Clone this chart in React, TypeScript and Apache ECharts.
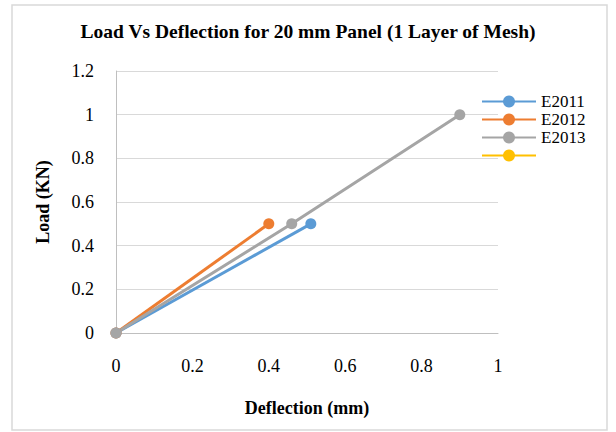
import React, { useEffect, useRef } from "react";
import * as echarts from "echarts";

const seriesNames = ["E2011", "E2012", "E2013", " "];
const e2011: [number, number][] = [[0, 0], [0.51, 0.5]];
const e2012: [number, number][] = [[0, 0], [0.4, 0.5]];
const e2013: [number, number][] = [[0, 0], [0.46, 0.5], [0.9, 1]];
const e2014: [number, number][] = [];
const colors = ["#5B9BD5", "#ED7D31", "#A5A5A5", "#FFC000"];

const FONT = "Liberation Serif";

export default function App() {
  const ref = useRef<HTMLDivElement>(null);
  useEffect(() => {
    if (!ref.current) return;
    const chart = echarts.init(ref.current, undefined, { renderer: "svg" });
    const datasets = [e2011, e2012, e2013, e2014];
    chart.setOption({
      animation: false,
      backgroundColor: "#ffffff",
      color: colors,
      textStyle: { fontFamily: FONT },
      title: {
        text: "Load Vs Deflection for 20 mm Panel (1 Layer of Mesh)",
        left: "center",
        top: 16,
        textStyle: { fontFamily: FONT, fontSize: 19.5, fontWeight: "bold", color: "#000" },
      },
      graphic: [
        {
          type: "rect",
          shape: { x: 12, y: 5, width: 595, height: 425 },
          style: { fill: "none", stroke: "#d9d9d9", lineWidth: 1.5 },
          silent: true,
        },
      ],
      legend: {
        orient: "vertical",
        left: 476,
        top: 88,
        itemWidth: 54,
        itemHeight: 15,
        itemGap: 1,
        data: seriesNames,
        textStyle: { fontFamily: FONT, fontSize: 17, color: "#000" },
      },
      grid: { left: 116, right: 118, top: 71, bottom: 99 },
      xAxis: {
        type: "value",
        min: 0,
        max: 1,
        interval: 0.2,
        name: "Deflection (mm)",
        nameLocation: "middle",
        nameGap: 66,
        nameTextStyle: { fontFamily: FONT, fontSize: 18, fontWeight: "bold", color: "#000" },
        axisLine: { show: true, lineStyle: { color: "#bfbfbf", width: 1 } },
        axisTick: { show: false },
        splitLine: { show: false },
        axisLabel: {
          margin: 24,
          fontFamily: FONT,
          fontSize: 18,
          color: "#000",
          formatter: (v: number) => String(Math.round(v * 10) / 10),
        },
      },
      yAxis: {
        type: "value",
        min: 0,
        max: 1.2,
        interval: 0.2,
        name: "Load (KN)",
        nameLocation: "middle",
        nameGap: 64,
        nameTextStyle: { fontFamily: FONT, fontSize: 18, fontWeight: "bold", color: "#000" },
        axisLine: { show: true, lineStyle: { color: "#bfbfbf", width: 1 } },
        axisTick: { show: false },
        splitLine: { show: true, lineStyle: { color: "#d9d9d9", width: 1 } },
        axisLabel: {
          margin: 22,
          fontFamily: FONT,
          fontSize: 18,
          color: "#000",
          formatter: (v: number) => String(Math.round(v * 10) / 10),
        },
      },
      series: seriesNames.map((name, i) => ({
        name,
        type: "line",
        data: datasets[i],
        symbol: "circle",
        symbolSize: 11,
        lineStyle: { width: 3, color: colors[i] },
        itemStyle: { color: colors[i] },
      })),
    });
    return () => chart.dispose();
  }, []);
  return (
    <div
      ref={ref}
      style={{ position: "absolute", left: 0, top: 0, width: 616, height: 432 }}
    />
  );
}
